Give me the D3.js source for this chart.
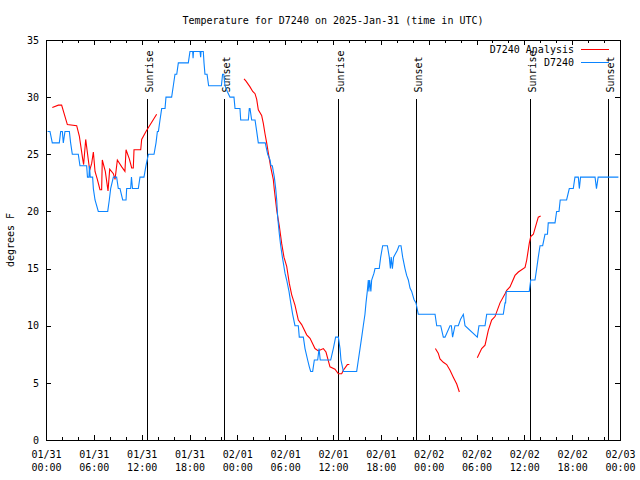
<!DOCTYPE html>
<html>
<head>
<meta charset="utf-8">
<script src="https://cdn.jsdelivr.net/npm/d3@7"></script>
<style>
  html, body { margin: 0; padding: 0; background: #fff; }
  svg { display: block; }
  text { font-family: "DejaVu Sans Mono", "Liberation Mono", monospace; font-size: 10px; fill: #000; }
</style>
</head>
<body>
<svg id="chart" width="640" height="480"></svg>
<script>
// ---------- DATA (hours since 2025-01-31 00:00 UTC, temperature °F) ----------
const title = "Temperature for D7240 on 2025-Jan-31 (time in UTC)";
const yLabel = "degrees F";
const seriesNames = ["D7240 Analysis", "D7240"];

// Analysis (red) – null marks gaps
const analysisHours = [0.79,1.55,1.96,2.68,3.85,4.18,4.6,4.72,4.98,5.31,5.48,5.73,5.94,6.15,6.44,6.77,6.98,7.06,7.44,7.78,7.99,8.45,8.66,8.95,9.5,9.9,10.04,10.45,10.75,10.95,11.04,11.88,12.0,12.54,13.88,
  null,
  24.84,25.09,25.59,25.93,26.22,26.43,26.63,27.05,27.26,27.47,27.68,27.89,28.18,28.51,28.64,28.94,29.27,29.56,29.85,30.19,30.52,30.82,31.23,31.65,32.07,32.7,33.12,33.74,34.16,34.79,35.12,35.62,36.25,36.67,37.09,37.3,37.8,38.05,
  null,
  48.84,49.2,49.42,49.84,50.26,50.68,51.09,51.52,51.85,
  null,
  54.1,54.65,55.07,55.48,55.9,56.32,56.95,57.58,57.79,58.2,58.83,59.25,60.09,60.3,60.62,60.8,61.13,61.46,61.75,62.05];
const analysisTemps = [29.1,29.3,29.3,27.6,27.5,26.6,24.6,24.1,26.3,24.5,23.6,24.2,25.2,23.5,22.8,21.9,21.9,24.5,23.5,21.8,23.7,23.3,22.8,24.5,23.9,23.5,25.4,24.6,23.8,23.8,25.4,25.4,26.3,27.0,28.5,
  null,
  31.6,31.4,30.9,30.5,30.3,29.8,28.9,28.4,27.7,26.8,26.0,25.1,23.9,22.8,21.9,20.1,18.7,17.2,16.0,15.2,13.7,12.7,11.8,10.5,10.1,9.2,8.9,8.0,7.8,8.0,7.7,6.4,6.2,5.8,5.8,6.1,6.6,6.6,
  null,
  8.0,7.6,7.1,6.8,6.6,6.1,5.5,4.9,4.2,
  null,
  7.2,8.0,8.3,9.6,10.5,10.8,12.0,12.8,13.1,13.4,14.4,14.7,15.1,15.75,17.2,17.8,18.0,18.8,19.5,19.6];

// Observations (blue)
const obsHours = [0.2,0.5,0.79,1.67,1.84,2.05,2.17,2.38,2.93,3.09,3.3,4.05,4.26,4.89,5.1,5.2,5.39,5.45,5.55,5.85,5.94,6.15,6.56,7.74,7.94,8.11,8.45,8.86,9.07,9.28,9.62,10.04,10.12,10.62,10.72,10.85,11.58,11.79,12.29,12.54,12.84,13.55,13.8,13.97,14.1,14.3,14.51,14.93,15.05,15.76,15.97,16.18,16.4,16.6,17.85,18.06,18.4,18.45,18.5,19.32,19.4,19.45,19.73,19.82,19.94,20.2,20.4,22.0,22.15,22.3,22.45,22.74,23.08,23.58,23.71,24.33,24.42,25.38,25.5,25.59,25.8,26.22,26.43,26.63,27.5,27.81,28.1,28.22,28.39,28.64,28.81,28.94,29.06,29.27,29.44,29.65,29.77,29.98,30.19,30.48,30.7,30.94,31.23,31.65,31.77,32.28,32.49,32.82,33.03,33.2,33.45,33.66,34.08,34.25,34.4,35.71,36.04,36.33,36.67,36.88,37.0,37.3,38.97,39.18,39.39,39.6,39.8,40.01,40.14,40.3,40.43,40.5,40.6,40.75,40.85,41.14,41.27,41.8,41.98,42.23,42.82,43.06,43.2,43.3,43.45,43.6,44.07,44.28,44.53,44.74,45.03,45.24,45.45,45.66,45.87,46.16,46.41,46.7,48.8,49.01,49.51,49.84,50.05,50.68,50.85,51.0,51.3,51.72,52.02,52.35,52.56,54.1,54.31,55.07,55.28,57.36,57.58,57.65,57.74,60.62,60.8,61.34,61.55,61.75,61.97,62.3,62.59,62.9,63.0,63.85,64.05,64.35,64.5,65.3,65.64,66.14,66.35,66.77,66.9,67.05,68.87,69.05,69.26,71.8];
const obsTemps = [27,27,26,26,27,27,26,27,27,26,25,25,24,24,24,23,23,24,23,23,22,21,20,20,21,22,23,23,22,22,21,21,22,22,23,22,22,23,23,24,25,25,26,27,27,28,29,29,30,30,31,32,32,33,33,34,34,33.4,34,34,33.5,34,34,33,32,32,31,31,32,32,31,30.5,30,30,29,29,28,28,29,29,28,28,27,26,26,25,24.5,24,24,23,22,21,19.5,18,17,16,15.5,14.6,14,13,12,11,10,10,9,9,8,7,6.4,6,6,7,7,8,7,7,8,9,9,8,7,6,6,7,8,9,10,11,12,13,14,13,14,13,14,14.6,15,15,16,17,17,16,15,16,15,16,16.6,17,17,16,15,14.4,14,13.3,13,12.3,12,11,11,10,10,9,9,10,10,9,10,10,10.6,11,10,9,10,10,11,11,12,12,13,13,14,14,15,16,17,17,18,18,19,19,20,20,21,21,22,22,23,23,22,23,23,22,23,23];

// Sun events (hours since start)
const sunLabels = ["Sunrise","Sunset","Sunrise","Sunset","Sunrise","Sunset"];
const sunHours  = [12.67, 22.37, 36.67, 46.45, 60.75, 70.53];

const yTicks = [0,5,10,15,20,25,30,35];

// ---------- CHART ----------
(function () {
const W = 640, H = 480;
const mLeft = 46, mRight = 620, mTop = 40, mBottom = 440;
const t0 = Date.UTC(2025, 0, 31, 0, 0);
const hr = 3600 * 1000;
const toDate = h => new Date(t0 + h * hr);

const svg = d3.select("#chart");
svg.append("rect").attr("width", W).attr("height", H).attr("fill", "#fff");

const x = d3.scaleUtc().domain([toDate(0), toDate(72)]).range([mLeft, mRight]);
const y = d3.scaleLinear().domain([0, 35]).range([mBottom, mTop]);

const majorTicks = d3.range(0, 73, 6).map(toDate);
const minorTicks = d3.range(0, 73, 2).filter(h => h % 6 !== 0).map(toDate);
const fmt = d3.utcFormat("%m/%d|%H:%M");

// Bottom axis (major, labelled)
const gx = svg.append("g").attr("transform", `translate(0,${mBottom})`)
  .call(d3.axisBottom(x).tickValues(majorTicks).tickSizeInner(-5).tickSizeOuter(0).tickPadding(0).tickFormat(fmt));
gx.attr("font-size", null).attr("font-family", null);
gx.select(".domain").remove();
gx.selectAll(".tick line").attr("stroke", "#000").attr("shape-rendering", "crispEdges");
gx.selectAll(".tick text").each(function(d) {
  const parts = fmt(d).split("|");
  const t = d3.select(this).text(null).attr("y", null).attr("dy", null);
  t.append("tspan").attr("x", 0).attr("y", 17.5).text(parts[0]);
  t.append("tspan").attr("x", 0).attr("y", 31).text(parts[1]);
});
svg.append("g").attr("transform", `translate(0,${mBottom})`)
  .call(d3.axisBottom(x).tickValues(minorTicks).tickSizeInner(-3).tickSizeOuter(0).tickFormat(""))
  .call(g => g.select(".domain").remove())
  .call(g => g.selectAll("line").attr("shape-rendering", "crispEdges"));

// Top axis (mirror ticks)
svg.append("g").attr("transform", `translate(0,${mTop})`)
  .call(d3.axisTop(x).tickValues(majorTicks).tickSizeInner(-5).tickSizeOuter(0).tickFormat(""))
  .call(g => g.select(".domain").remove())
  .call(g => g.selectAll("line").attr("shape-rendering", "crispEdges"));
svg.append("g").attr("transform", `translate(0,${mTop})`)
  .call(d3.axisTop(x).tickValues(minorTicks).tickSizeInner(-3).tickSizeOuter(0).tickFormat(""))
  .call(g => g.select(".domain").remove())
  .call(g => g.selectAll("line").attr("shape-rendering", "crispEdges"));

// Left axis
const gy = svg.append("g").attr("transform", `translate(${mLeft},0)`)
  .call(d3.axisLeft(y).tickValues(yTicks).tickSizeInner(-5).tickSizeOuter(0).tickPadding(7));
gy.attr("font-size", null).attr("font-family", null);
gy.select(".domain").remove();
gy.selectAll("line").attr("shape-rendering", "crispEdges");
// Right axis (mirror)
svg.append("g").attr("transform", `translate(${mRight},0)`)
  .call(d3.axisRight(y).tickValues(yTicks).tickSizeInner(-5).tickSizeOuter(0).tickFormat(""))
  .call(g => g.select(".domain").remove())
  .call(g => g.selectAll("line").attr("shape-rendering", "crispEdges"));

// Border
svg.append("rect").attr("x", mLeft).attr("y", mTop).attr("width", mRight - mLeft).attr("height", mBottom - mTop)
  .attr("fill", "none").attr("stroke", "#000").attr("stroke-width", 1).attr("shape-rendering", "crispEdges");

// Sun event lines & labels
sunHours.forEach((h, i) => {
  const xp = x(toDate(h));
  svg.append("line").attr("x1", xp).attr("x2", xp).attr("y1", 99).attr("y2", mBottom)
    .attr("stroke", "#000").attr("stroke-width", 1).attr("shape-rendering", "crispEdges");
  svg.append("text").attr("transform", `translate(${xp + 5.5},92.5) rotate(-90)`)
    .attr("text-anchor", "start").text(sunLabels[i]);
});

// Lines
const analysis = analysisHours.map((h, i) => ({h, t: analysisTemps[i]}));
const obs = obsHours.map((h, i) => ({h, t: obsTemps[i]}));
const line = d3.line()
  .defined(d => d.h !== null && d.t !== null)
  .x(d => x(toDate(d.h))).y(d => y(d.t));

svg.append("path").datum(analysis).attr("d", line)
  .attr("fill", "none").attr("stroke", "#ff0000").attr("stroke-width", 1.1);
svg.append("path").datum(obs).attr("d", line)
  .attr("fill", "none").attr("stroke", "#0a84ff").attr("stroke-width", 1.1);

// Title & y label
svg.append("text").attr("x", (mLeft + mRight) / 2).attr("y", 24).attr("text-anchor", "middle").text(title);
svg.append("text").attr("transform", `translate(14,240) rotate(-90)`).attr("text-anchor", "middle").text(yLabel);

// Legend
const legColors = ["#ff0000", "#0a84ff"];
const legY = [49.5, 62.5];
seriesNames.forEach((name, i) => {
  svg.append("text").attr("x", 574).attr("y", legY[i] + 3.6).attr("text-anchor", "end").text(name);
  svg.append("line").attr("x1", 581).attr("x2", 609).attr("y1", legY[i]).attr("y2", legY[i])
    .attr("stroke", legColors[i]).attr("stroke-width", 1).attr("shape-rendering", "crispEdges");
});
})();
</script>
</body>
</html>
